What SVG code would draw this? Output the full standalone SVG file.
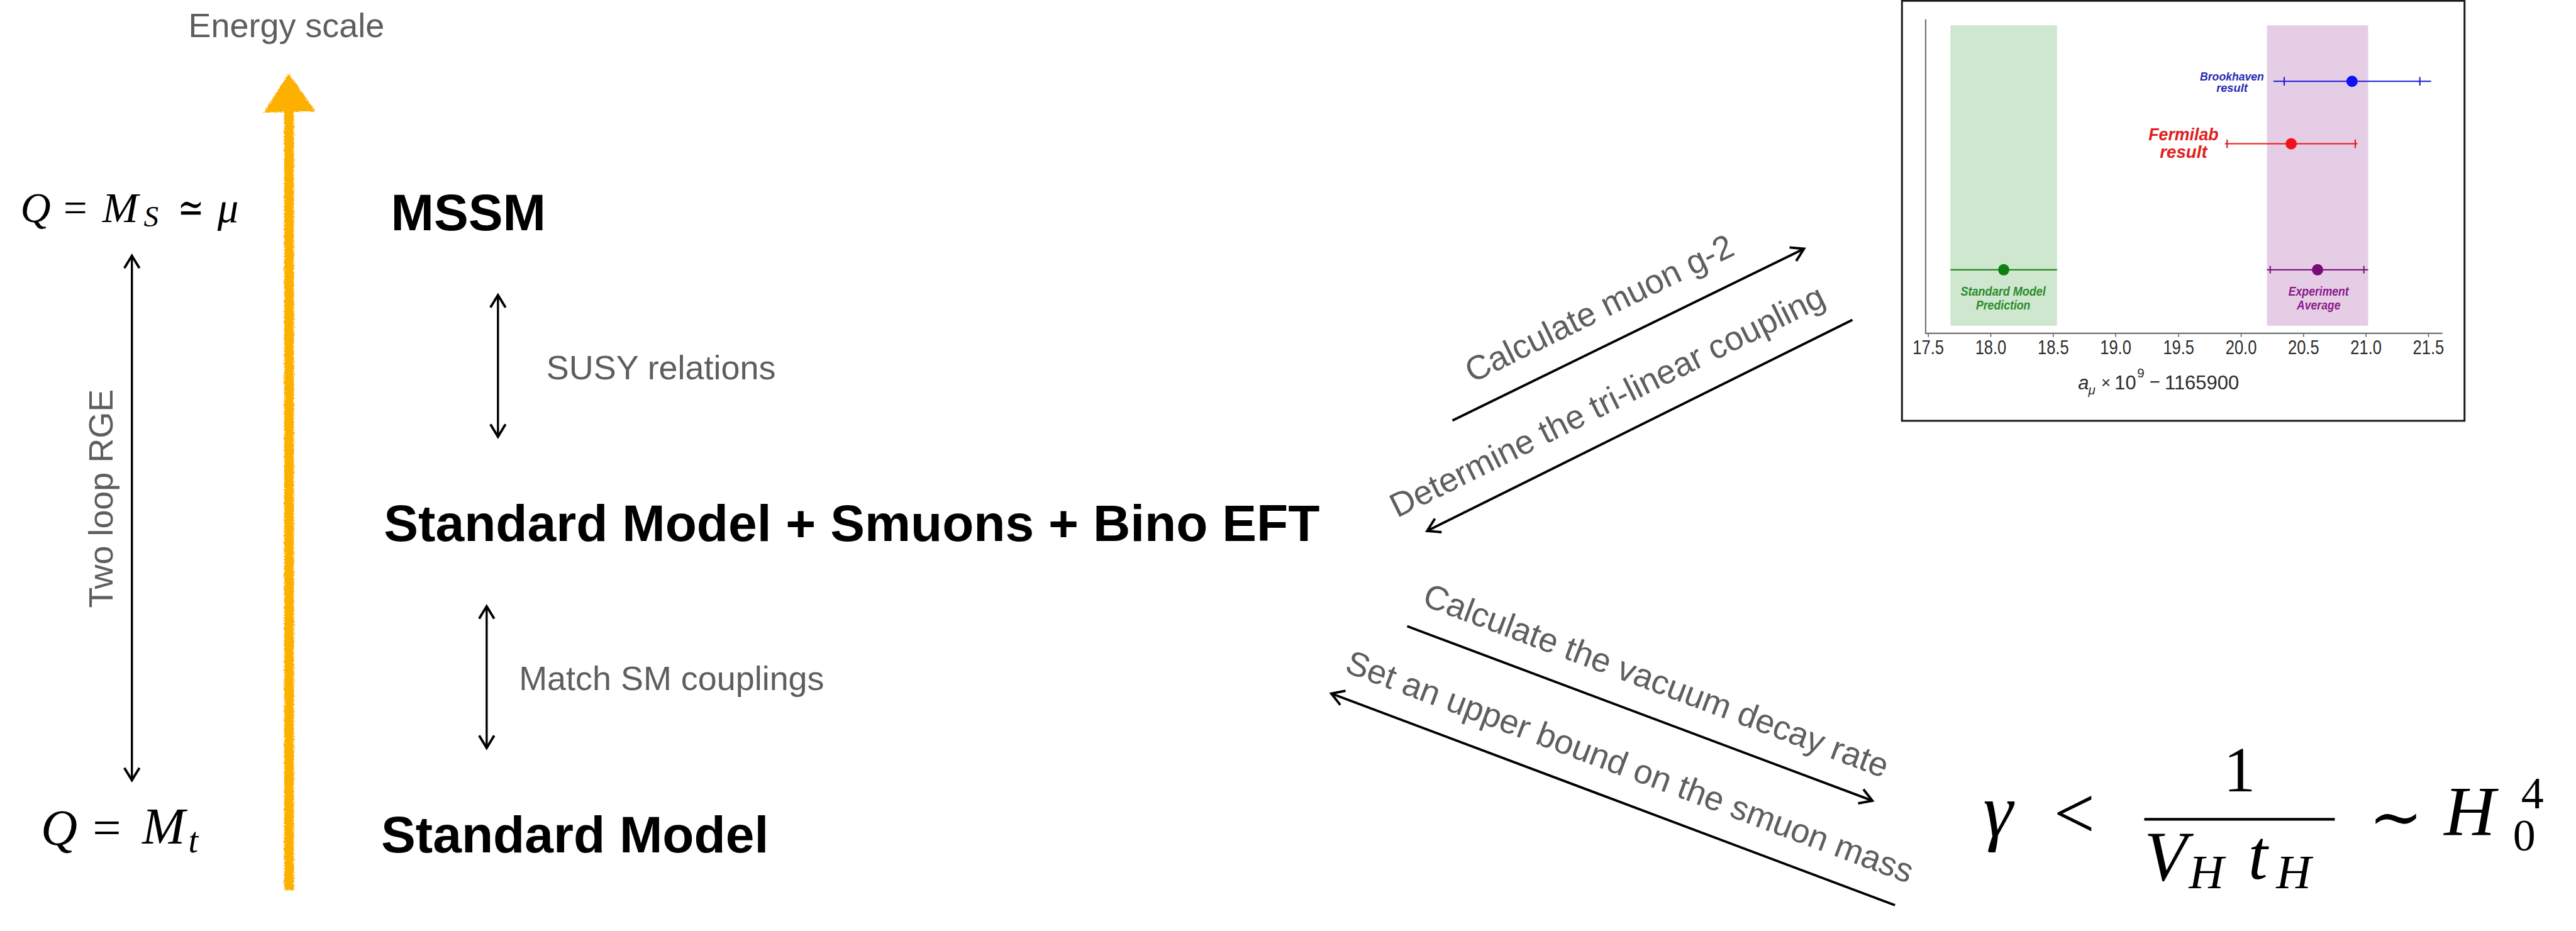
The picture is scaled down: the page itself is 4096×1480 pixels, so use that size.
<svg xmlns="http://www.w3.org/2000/svg" width="4096" height="1480" viewBox="0 0 4096 1480">
  <defs>
    <style>
      .node { font-family: "Liberation Sans", Arial, sans-serif; font-weight: bold; font-size: 96px; fill: #000; }
      .lbl  { font-family: "Liberation Sans", Arial, sans-serif; font-size: 63px; fill: #5e5e5e; }
      .mi   { font-family: "Liberation Serif", "DejaVu Serif", serif; font-style: italic; fill: #000; }
      .mr   { font-family: "Liberation Serif", "DejaVu Serif", serif; fill: #000; }
      .sym  { font-family: "DejaVu Serif", "Liberation Serif", serif; fill: #000; }
      .conn { fill: none; stroke: #000; stroke-width: 4.5; }
      .vconn { fill: none; stroke: #000; stroke-width: 4; }
      .tick { font-family: "Liberation Sans", Arial, sans-serif; font-size: 36px; fill: #2b2b2b; text-anchor: middle; }
      .tag  { font-family: "Liberation Sans", Arial, sans-serif; font-weight: bold; font-style: italic; text-anchor: middle; }
      .bar  { fill: none; stroke-width: 2.5; }
    </style>
    <marker id="head" markerUnits="userSpaceOnUse" viewBox="-30 -20 34 40" refX="0" refY="0"
            markerWidth="34" markerHeight="40" orient="auto-start-reverse" overflow="visible">
      <path d="M-23,-14 L0,0 L-23,14" fill="none" stroke="#000" stroke-width="4.5"/>
    </marker>
    <filter id="chalk" x="-60%" y="-5%" width="220%" height="110%">
      <feTurbulence type="fractalNoise" baseFrequency="0.45" numOctaves="2" seed="3" result="noise"/>
      <feDisplacementMap in="SourceGraphic" in2="noise" scale="8" xChannelSelector="R" yChannelSelector="G"/>
    </filter>
  </defs>

  <rect width="4096" height="1480" fill="#fff"/>

  <g transform="scale(0.856)">

    <!-- energy axis -->
    <g id="energy-axis">
      <text class="lbl" x="350" y="69">Energy scale</text>
      <g filter="url(#chalk)" fill="#FDB000">
        <path d="M536,136 L586,207 L490,209 Z"/>
        <rect x="528" y="200" width="18" height="1453"/>
      </g>
    </g>

    <!-- scale annotations on the left -->
    <g id="scale-high">
      <text class="mi" x="38" y="412" font-size="78">Q</text>
      <text class="mr" x="118" y="412" font-size="78">=</text>
      <text class="mi" x="190" y="412" font-size="80">M</text>
      <text class="mi" x="267" y="421" font-size="55">S</text>
      <text class="sym" x="330" y="412" font-size="78" textLength="49" lengthAdjust="spacingAndGlyphs">≃</text>
      <text class="mi" x="404" y="412" font-size="78">μ</text>
    </g>
    <g id="scale-low">
      <text class="mi" x="76" y="1569" font-size="94">Q</text>
      <text class="mr" x="172" y="1569" font-size="94">=</text>
      <text class="mi" x="264" y="1567" font-size="96">M</text>
      <text class="mi" x="350" y="1583" font-size="66">t</text>
    </g>

    <!-- theory levels -->
    <g id="mssm"><text class="node" x="726" y="428">MSSM</text></g>
    <g id="eft"><text class="node" x="713" y="1005">Standard Model + Smuons + Bino EFT</text></g>
    <g id="sm"><text class="node" x="708" y="1583">Standard Model</text></g>

    <!-- g-2 plot -->
    <g id="g2-plot">
      <rect x="3533" y="1.5" width="1045" height="780" fill="#fff" stroke="#1a1a1a" stroke-width="3.5"/>
      <rect x="3623" y="47" width="198" height="558" fill="#cfe7cf"/>
      <rect x="4211" y="47" width="188" height="558" fill="#e6cde6"/>
      <path d="M3577,36 V619 H4537" fill="none" stroke="#707070" stroke-width="2.5"/>
      <path d="M3582,619v7 M3698,619v7 M3814,619v7 M3930,619v7 M4047,619v7 M4163,619v7 M4279,619v7 M4395,619v7 M4511,619v7"
            fill="none" stroke="#707070" stroke-width="2"/>
      <g class="tick">
        <text x="3582" y="658" textLength="58" lengthAdjust="spacingAndGlyphs">17.5</text>
        <text x="3698" y="658" textLength="58" lengthAdjust="spacingAndGlyphs">18.0</text>
        <text x="3814" y="658" textLength="58" lengthAdjust="spacingAndGlyphs">18.5</text>
        <text x="3930" y="658" textLength="58" lengthAdjust="spacingAndGlyphs">19.0</text>
        <text x="4047" y="658" textLength="58" lengthAdjust="spacingAndGlyphs">19.5</text>
        <text x="4163" y="658" textLength="58" lengthAdjust="spacingAndGlyphs">20.0</text>
        <text x="4279" y="658" textLength="58" lengthAdjust="spacingAndGlyphs">20.5</text>
        <text x="4395" y="658" textLength="58" lengthAdjust="spacingAndGlyphs">21.0</text>
        <text x="4511" y="658" textLength="58" lengthAdjust="spacingAndGlyphs">21.5</text>
      </g>
      <g font-family="Liberation Sans, Arial, sans-serif" fill="#2b2b2b">
        <text x="3860" y="723" font-size="36" font-style="italic">a</text>
        <text x="3879" y="732" font-size="24" font-style="italic">μ</text>
        <text x="3903" y="721" font-size="30">×</text>
        <text x="3928" y="723" font-size="36">10</text>
        <text x="3970" y="701" font-size="24">9</text>
        <text x="3993" y="721" font-size="34">−</text>
        <text x="4021" y="723" font-size="36" textLength="138" lengthAdjust="spacingAndGlyphs">1165900</text>
      </g>

      <!-- Standard Model prediction -->
      <path class="bar" d="M3623,501 H3821" stroke="#1e8a1e"/>
      <circle cx="3722" cy="501" r="10.5" fill="#0f7f0f"/>
      <text class="tag" x="3721" y="549" font-size="24" fill="#2a8c2a" textLength="158" lengthAdjust="spacingAndGlyphs">Standard Model</text>
      <text class="tag" x="3721" y="575" font-size="24" fill="#2a8c2a" textLength="101" lengthAdjust="spacingAndGlyphs">Prediction</text>

      <!-- experiment average -->
      <path class="bar" d="M4211,501 H4399 M4217,494 V508 M4391,494 V508" stroke="#7f157f"/>
      <circle cx="4305" cy="501" r="10.5" fill="#7a0a7a"/>
      <text class="tag" x="4307" y="549" font-size="24" fill="#8a1a8a" textLength="112" lengthAdjust="spacingAndGlyphs">Experiment</text>
      <text class="tag" x="4307" y="575" font-size="24" fill="#8a1a8a" textLength="81" lengthAdjust="spacingAndGlyphs">Average</text>

      <!-- Fermilab -->
      <path class="bar" d="M4133,267 H4379 M4137,259 V275 M4375,259 V275" stroke="#e8161b"/>
      <circle cx="4256" cy="267" r="10.5" fill="#f0141a"/>
      <text class="tag" x="4056" y="261" font-size="33" fill="#e0201c" textLength="130" lengthAdjust="spacingAndGlyphs">Fermilab</text>
      <text class="tag" x="4056" y="293" font-size="33" fill="#e0201c" textLength="88" lengthAdjust="spacingAndGlyphs">result</text>

      <!-- Brookhaven -->
      <path class="bar" d="M4223,151 H4516 M4243,143 V159 M4495,143 V159" stroke="#1a1ad8"/>
      <circle cx="4369" cy="151" r="10.5" fill="#1010f5"/>
      <text class="tag" x="4146" y="149" font-size="22" fill="#2828b4" textLength="119" lengthAdjust="spacingAndGlyphs">Brookhaven</text>
      <text class="tag" x="4146" y="170" font-size="22" fill="#2828b4" textLength="58" lengthAdjust="spacingAndGlyphs">result</text>
    </g>

    <!-- vacuum decay bound -->
    <g id="decay-bound">
      <text class="mi" x="3684" y="1552" font-size="140">γ</text>
      <text class="mr" x="3815" y="1556" font-size="135">&lt;</text>
      <text class="mr" x="4160" y="1470" font-size="118" text-anchor="middle">1</text>
      <rect x="3983" y="1519" width="354" height="5" fill="#000"/>
      <text class="mi" x="3983" y="1634" font-size="130">V</text>
      <text class="mi" x="4066" y="1650" font-size="90">H</text>
      <text class="mi" x="4176" y="1632" font-size="130">t</text>
      <text class="mi" x="4228" y="1650" font-size="90">H</text>
      <text class="sym" x="4400" y="1558" font-size="120">∼</text>
      <text class="mi" x="4540" y="1550" font-size="132">H</text>
      <text class="mr" x="4683" y="1501" font-size="84">4</text>
      <text class="mr" x="4668" y="1580" font-size="84">0</text>
    </g>

    <!-- connectors -->
    <g id="connectors">
      <path class="vconn" d="M245,475 V1449" marker-start="url(#head)" marker-end="url(#head)"/>
      <path class="vconn" d="M925,548 V811" marker-start="url(#head)" marker-end="url(#head)"/>
      <path class="vconn" d="M904,1126 V1389" marker-start="url(#head)" marker-end="url(#head)"/>
      <path class="conn" d="M2698,781 L3351,462" marker-end="url(#head)"/>
      <path class="conn" d="M3441,594 L2651,986" marker-end="url(#head)"/>
      <path class="conn" d="M2614,1163 L3478,1487" marker-end="url(#head)"/>
      <path class="conn" d="M3520,1681 L2473,1288" marker-end="url(#head)"/>
    </g>

    <!-- connector labels -->
    <g id="connector-labels">
      <text class="lbl" text-anchor="middle" transform="translate(209,926) rotate(-90)">Two loop RGE</text>
      <text class="lbl" x="1015" y="704">SUSY relations</text>
      <text class="lbl" x="964" y="1281">Match SM couplings</text>
      <text class="lbl" text-anchor="middle" transform="translate(2980,592) rotate(-26.04)">Calculate muon g-2</text>
      <text class="lbl" text-anchor="middle" transform="translate(2995,764) rotate(-26.39)">Determine the tri-linear coupling</text>
      <text class="lbl" text-anchor="middle" transform="translate(3069,1284) rotate(20.56)">Calculate the vacuum decay rate</text>
      <text class="lbl" text-anchor="middle" transform="translate(3020,1444) rotate(20.57)">Set an upper bound on the smuon mass</text>
    </g>
  </g>
</svg>
